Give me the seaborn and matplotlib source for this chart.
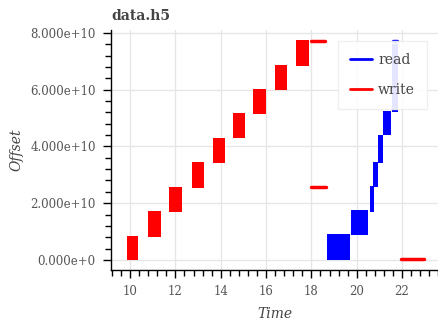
import matplotlib
matplotlib.use("Agg")
import matplotlib.pyplot as plt
from matplotlib.ticker import MultipleLocator, FuncFormatter
import numpy as np
import pandas as pd
import seaborn as sns

# Write bursts: time span (s) and offset span (bytes)
write_t0 = [9.85, 10.81, 11.73, 12.72, 13.65, 14.56, 15.44, 16.38, 17.34]
write_t1 = [10.36, 11.35, 12.29, 13.26, 14.20, 15.09, 15.98, 16.94, 17.88]
write_lo = [0.00e10, 0.82e10, 1.69e10, 2.55e10, 3.41e10, 4.28e10, 5.13e10, 5.97e10, 6.83e10]
write_hi = [0.85e10, 1.73e10, 2.58e10, 3.44e10, 4.28e10, 5.16e10, 6.02e10, 6.88e10, 7.75e10]

# Single write requests
write_seg_t0 = [17.98, 17.97, 21.94]
write_seg_t1 = [18.61, 18.65, 22.97]
write_seg_off = [7.71e10, 2.58e10, 0.02e10]

# Read bursts
read_t0 = [18.68, 19.75, 20.59, 20.71, 20.93, 21.17, 21.55]
read_t1 = [19.71, 20.51, 20.77, 20.95, 21.17, 21.50, 21.80]
read_lo = [0.00e10, 0.88e10, 1.70e10, 2.58e10, 3.40e10, 4.40e10, 5.20e10]
read_hi = [0.90e10, 1.76e10, 2.62e10, 3.46e10, 4.40e10, 5.25e10, 7.60e10]

# Single read requests
read_seg_t0 = [21.58]
read_seg_t1 = [21.76]
read_seg_off = [7.72e10]

READ_C = "#0000ff"
WRITE_C = "#ff0000"
SERIF = "DejaVu Serif"

sns.set_theme(style="white")
plt.rcParams["font.family"] = [SERIF]

fig = plt.figure(figsize=(4.39, 3.21), dpi=100)
ax = fig.add_axes([111 / 439, 1 - 270 / 321, 328 / 439, 240 / 321])

# Burst blocks
ax.bar(write_t0, np.subtract(write_hi, write_lo), width=np.subtract(write_t1, write_t0),
       bottom=write_lo, align="edge", color=WRITE_C, linewidth=0, zorder=2)
ax.bar(read_t0, np.subtract(read_hi, read_lo), width=np.subtract(read_t1, read_t0),
       bottom=read_lo, align="edge", color=READ_C, linewidth=0, zorder=2)

# Individual request segments as lines
rows = []
for i, (a, b, o) in enumerate(zip(read_seg_t0, read_seg_t1, read_seg_off)):
    rows += [("read", f"r{i}", a, o), ("read", f"r{i}", b, o)]
for i, (a, b, o) in enumerate(zip(write_seg_t0, write_seg_t1, write_seg_off)):
    rows += [("write", f"w{i}", a, o), ("write", f"w{i}", b, o)]
segs = pd.DataFrame(rows, columns=["op", "seg", "Time", "Offset"])

sns.lineplot(data=segs, x="Time", y="Offset", hue="op", units="seg", estimator=None,
             palette={"read": READ_C, "write": WRITE_C}, linewidth=2.5, ax=ax,
             sort=False, zorder=2)

ax.set_xlim(9.16, 23.63)
ax.set_ylim(-0.352e10, 8.1e10)

ax.xaxis.set_major_locator(MultipleLocator(2))
ax.xaxis.set_minor_locator(MultipleLocator(0.4))
ax.yaxis.set_major_locator(MultipleLocator(2e10))
ax.yaxis.set_minor_locator(MultipleLocator(0.4e10))


def sci(v, pos):
    if v == 0:
        return "0.000e+0"
    e = int(np.floor(np.log10(abs(v))))
    return f"{v / 10 ** e:.3f}e+{e}"


ax.yaxis.set_major_formatter(FuncFormatter(sci))

ax.grid(True, which="major", color="#e6e6e6", linewidth=1, zorder=0)
ax.set_axisbelow(True)
for s in ("top", "right"):
    ax.spines[s].set_visible(False)
for s in ("left", "bottom"):
    ax.spines[s].set_color("black")
    ax.spines[s].set_linewidth(1)

ax.tick_params(which="major", direction="out", length=6, width=1, color="black",
               labelsize=8.5, labelcolor="#555555", pad=5, left=True, bottom=True)
ax.tick_params(which="minor", direction="out", length=4, width=1, color="black",
               left=True, bottom=True)

ax.set_xlabel("Time", fontstyle="italic", fontsize=10, color="#444444", labelpad=6)
ax.set_ylabel("Offset", fontstyle="italic", fontsize=10, color="#444444", labelpad=5)
ax.set_title("data.h5", loc="left", fontweight="bold", fontsize=10, color="#444444", pad=7)

handles, labels = ax.get_legend_handles_labels()
leg = ax.legend(handles, labels, loc="upper right", bbox_to_anchor=(0.963, 0.954),
                borderaxespad=0, fontsize=10, frameon=True, framealpha=0.9,
                facecolor="white", edgecolor="#eeeeee", fancybox=False,
                handlelength=1.6, borderpad=0.85, labelspacing=1.15, handletextpad=0.45)
leg.set_zorder(10)
leg.get_frame().set_facecolor((1, 1, 1, 0.9))
for t in leg.get_texts():
    t.set_color("#444444")
for h in leg.get_lines():
    h.set_linewidth(2)

fig.savefig("out.png", dpi=100)
